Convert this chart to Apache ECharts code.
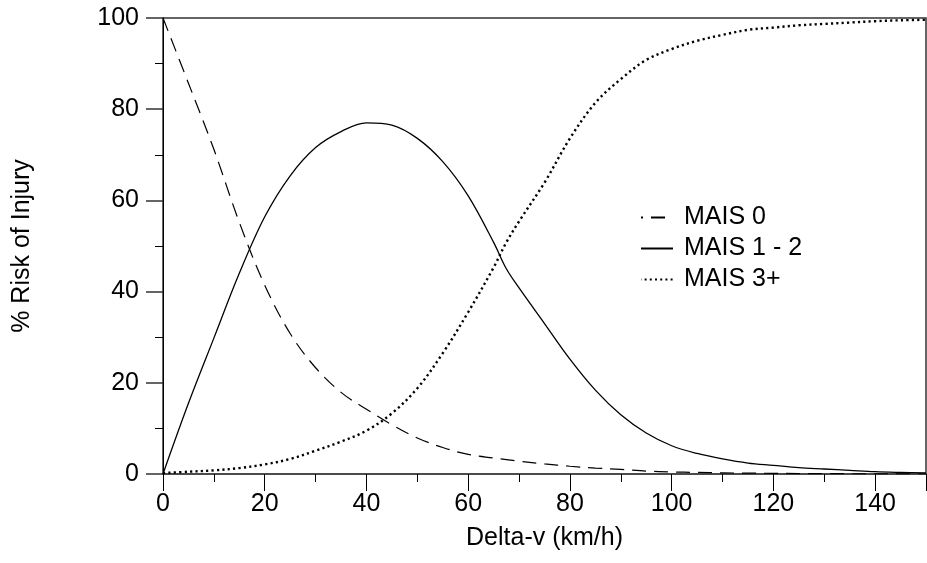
<!DOCTYPE html>
<html>
<head>
<meta charset="utf-8">
<script src="https://cdn.jsdelivr.net/npm/echarts@6/dist/echarts.min.js"></script>
<style>
  html, body { margin: 0; padding: 0; background: #fff; }
  #chart { width: 927px; height: 563px; }
</style>
</head>
<body>
<div id="chart"></div>
<script>
// delta-v values (km/h)
const deltaV = [0, 5, 10, 15, 20, 25, 30, 35, 40, 45, 50, 55, 60, 65, 67.5, 70,
  75, 80, 85, 90, 95, 100, 105, 110, 115, 120, 125, 130, 135, 140, 145, 150]
// % risk
const mais0 = [100, 85.7, 71.2, 55.2, 41.4, 30.8, 23.3, 17.9, 14.2, 10.8, 7.9, 5.8, 4.3, 3.5, 3.15, 2.8,
  2.2, 1.7, 1.3, 1.0, 0.65, 0.45, 0.35, 0.25, 0.2, 0.15, 0.1, 0.08, 0.06, 0.04, 0.03, 0.02]
const mais12 = [0, 15.5, 29.8, 44, 56.4, 65.4, 71.6, 75.1, 77.0, 76.5, 73.6, 68.5, 61, 50.8, 45, 40.8,
  33.0, 25.2, 18.4, 13.0, 9.0, 6.2, 4.5, 3.3, 2.4, 1.9, 1.4, 1.1, 0.8, 0.5, 0.35, 0.25]
const mais3 = [0.2, 0.5, 0.8, 1.3, 2.1, 3.3, 5.1, 7.1, 9.5, 13.3, 18.8, 26.5, 35.5, 45.3, 50.8, 55.4,
  63.9, 73.6, 81.4, 86.6, 90.8, 93.2, 95.0, 96.3, 97.4, 97.9, 98.4, 98.7, 99.0, 99.3, 99.5, 99.6]
const xTicks = [0, 20, 40, 60, 80, 100, 120, 140]
const yTicks = [0, 20, 40, 60, 80, 100]

const fontFamily = 'Liberation Sans, Arial, sans-serif'
const pairs = ys => deltaV.map((x, i) => [x, ys[i]])

const myChart = echarts.init(document.getElementById('chart'))

const lineSeries = (name, ys, lineStyle) => ({
  name: name,
  type: 'line',
  data: pairs(ys),
  symbol: 'none',
  smooth: 0.35,
  silent: true,
  lineStyle: { color: '#000', ...lineStyle },
  itemStyle: { color: '#000' }
})

myChart.setOption({
  animation: false,
  textStyle: { fontFamily: fontFamily },
  grid: {
    left: 163,
    right: 1,
    top: 18,
    bottom: 89,
    show: true,
    borderColor: '#333',
    borderWidth: 1.5
  },
  legend: {
    orient: 'vertical',
    left: 635,
    top: 200,
    itemWidth: 32,
    itemHeight: 14,
    itemGap: 6,
    itemStyle: { opacity: 0 },
    textStyle: {
      fontSize: 25,
      color: '#000',
      fontFamily: fontFamily,
      padding: [0, 0, 0, 6]
    },
    data: [
      { name: 'MAIS 0', lineStyle: { type: [14, 8], dashOffset: 12 } },
      'MAIS 1 - 2',
      { name: 'MAIS 3+', lineStyle: { type: [2, 3.2], width: 2 } }
    ]
  },
  xAxis: {
    type: 'value',
    min: 0,
    max: 150,
    interval: 20,
    name: 'Delta-v (km/h)',
    nameLocation: 'middle',
    nameGap: 52,
    nameTextStyle: { fontSize: 25, color: '#000', fontFamily: fontFamily },
    axisLine: { show: true, lineStyle: { color: '#444', width: 1.5 } },
    axisTick: { show: true, length: 17, lineStyle: { color: '#000', width: 1 } },
    minorTick: { show: true, splitNumber: 2, length: 8, lineStyle: { color: '#000', width: 1 } },
    axisLabel: {
      fontSize: 25,
      color: '#000',
      margin: 18,
      showMaxLabel: false,
      formatter: v => (xTicks.includes(v) ? String(v) : '')
    },
    splitLine: { show: false }
  },
  yAxis: {
    type: 'value',
    min: 0,
    max: 100,
    interval: 20,
    name: '% Risk of Injury',
    nameLocation: 'middle',
    nameRotate: 90,
    nameGap: 128,
    nameTextStyle: { fontSize: 25, color: '#000', fontFamily: fontFamily },
    axisLine: { show: true, lineStyle: { color: '#000', width: 1 } },
    axisTick: { show: true, length: 17, lineStyle: { color: '#333', width: 1.5 } },
    minorTick: { show: true, splitNumber: 2, length: 8, lineStyle: { color: '#000', width: 1 } },
    axisLabel: {
      fontSize: 25,
      color: '#000',
      margin: 24,
      formatter: v => (yTicks.includes(v) ? String(v) : '')
    },
    splitLine: { show: false }
  },
  series: [
    lineSeries('MAIS 0', mais0, { width: 1.2, type: [14, 8] }),
    lineSeries('MAIS 1 - 2', mais12, { width: 1.3, type: 'solid' }),
    lineSeries('MAIS 3+', mais3, { width: 2.4, type: [2.2, 3.2] })
  ]
})
</script>
</body>
</html>
